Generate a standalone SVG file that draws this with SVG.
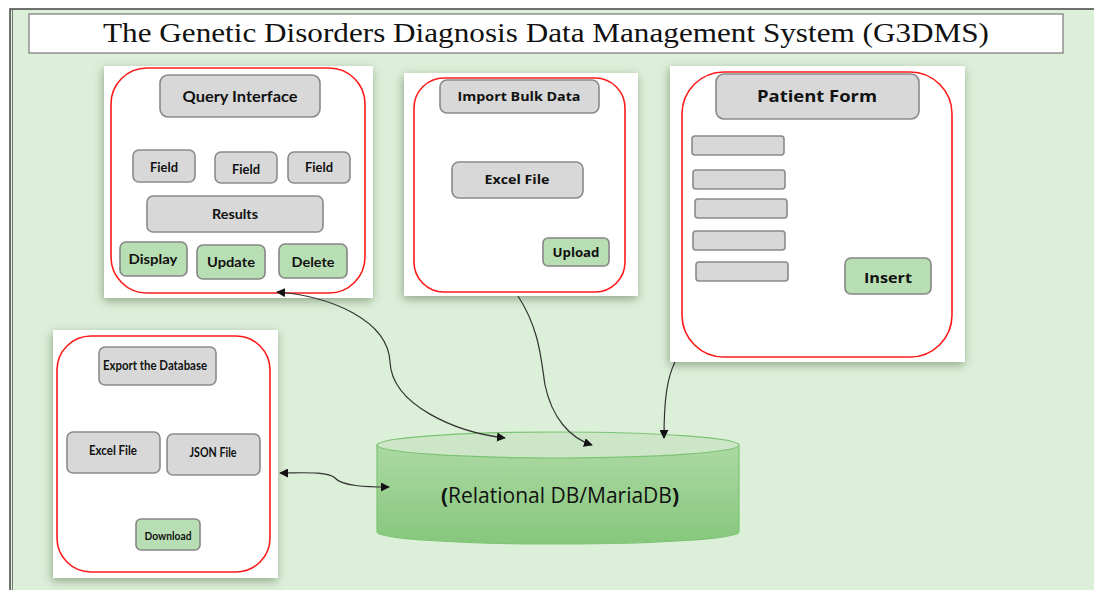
<svg xmlns="http://www.w3.org/2000/svg" width="1094" height="590" viewBox="0 0 1094 590">
<defs>
<style>
.panel{fill:#fff;filter:url(#sh)}
.red{fill:none;stroke:#ff1a1a;stroke-width:1.6}
.btn{fill:#d8d8d8;stroke:#8a8a8a;stroke-width:1.6}
.gbtn{fill:#b8dfb3;stroke:#858585;stroke-width:1.6}
.lbl{font-family:"Open Sans",Lato,"Liberation Sans",sans-serif;font-weight:bold;fill:#111;text-anchor:middle}
.cal{font-family:Lato,"Open Sans","Liberation Sans",sans-serif;font-weight:bold;fill:#111;text-anchor:middle}
.conn{fill:none;stroke:#333;stroke-width:1.2}
</style>
<filter id="sh" x="-20%" y="-20%" width="140%" height="140%">
<feDropShadow dx="-1" dy="3" stdDeviation="5" flood-color="#4f6a48" flood-opacity="0.55"/>
</filter>
<marker id="ah" viewBox="0 0 10 10" refX="9" refY="5" markerWidth="9" markerHeight="9" markerUnits="userSpaceOnUse" orient="auto-start-reverse">
<path d="M0,0 L10,5 L0,10 z" fill="#111"/>
</marker>
<linearGradient id="cyl" x1="0" y1="0" x2="0" y2="1">
<stop offset="0" stop-color="#acd9a3"/>
<stop offset="1" stop-color="#86c77c"/>
</linearGradient>
</defs>

<rect x="0" y="0" width="1094" height="590" fill="#fff"/>
<rect x="10" y="9" width="1090" height="590" fill="#dcefd8" stroke="#444" stroke-width="1.5"/>
<line x1="12.5" y1="10" x2="12.5" y2="590" stroke="#777" stroke-width="1"/>

<g id="title">
<rect x="29" y="14" width="1034" height="39" fill="#fff" stroke="#777" stroke-width="1.2"/>
<text x="546" y="42" font-family="'Liberation Serif','Times New Roman',serif" font-size="28" fill="#111" text-anchor="middle" textLength="886" lengthAdjust="spacingAndGlyphs">The Genetic Disorders Diagnosis Data Management System (G3DMS)</text>
</g>

<g id="query-panel">
<rect class="panel" x="104" y="66" width="269" height="232"/>
<rect class="red" x="111" y="68" width="254" height="225" rx="36" stroke-width="1.3"/>
<rect class="btn" x="160" y="75" width="160" height="42" rx="8"/>
<text class="cal" x="240" y="102" font-size="15" textLength="115" lengthAdjust="spacingAndGlyphs">Query Interface</text>
<rect class="btn" x="133" y="150" width="62" height="32" rx="6"/>
<text class="cal" x="164" y="172" font-size="13" textLength="28" lengthAdjust="spacingAndGlyphs">Field</text>
<rect class="btn" x="215" y="152" width="62" height="31" rx="6"/>
<text class="cal" x="246" y="174" font-size="13" textLength="28" lengthAdjust="spacingAndGlyphs">Field</text>
<rect class="btn" x="288" y="152" width="62" height="31" rx="6"/>
<text class="cal" x="319" y="172" font-size="13" textLength="28" lengthAdjust="spacingAndGlyphs">Field</text>
<rect class="btn" x="147" y="196" width="176" height="36" rx="6"/>
<text class="cal" x="235" y="219" font-size="13" textLength="46" lengthAdjust="spacingAndGlyphs">Results</text>
<rect class="gbtn" x="120" y="242" width="67" height="34" rx="6"/>
<text class="cal" x="153" y="264" font-size="14" textLength="49" lengthAdjust="spacingAndGlyphs">Display</text>
<rect class="gbtn" x="197" y="245" width="68" height="34" rx="6"/>
<text class="cal" x="231" y="267" font-size="14" textLength="48" lengthAdjust="spacingAndGlyphs">Update</text>
<rect class="gbtn" x="279" y="244" width="68" height="34" rx="6"/>
<text class="cal" x="313" y="267" font-size="14" textLength="43" lengthAdjust="spacingAndGlyphs">Delete</text>
</g>

<g id="import-panel">
<rect class="panel" x="404" y="73" width="234" height="223"/>
<rect class="red" x="414" y="78" width="211" height="214" rx="30" stroke-width="1.5"/>
<rect class="btn" x="440" y="80" width="159" height="33" rx="7"/>
<text class="lbl" x="519" y="100.5" font-size="12.5" textLength="123" lengthAdjust="spacingAndGlyphs">Import Bulk Data</text>
<rect class="btn" x="452" y="162" width="131" height="36" rx="7"/>
<text class="lbl" x="517" y="183.5" font-size="13" textLength="65" lengthAdjust="spacingAndGlyphs">Excel File</text>
<rect class="gbtn" x="543" y="238" width="66" height="28" rx="5"/>
<text class="lbl" x="576" y="257" font-size="11.5" textLength="47" lengthAdjust="spacingAndGlyphs">Upload</text>
</g>

<g id="patient-panel">
<rect class="panel" x="670" y="66" width="295" height="296"/>
<rect class="red" x="682" y="72" width="270" height="285" rx="42" stroke-width="2.4"/>
<rect class="btn" x="716" y="74" width="203" height="45" rx="8" stroke-width="2"/>
<text class="lbl" x="817" y="102" font-size="15.5" textLength="120" lengthAdjust="spacingAndGlyphs">Patient Form</text>
<rect class="btn" x="692" y="136" width="92" height="19" rx="3" stroke-width="2"/>
<rect class="btn" x="693" y="170" width="92" height="19" rx="3" stroke-width="2"/>
<rect class="btn" x="695" y="199" width="92" height="19" rx="3" stroke-width="2"/>
<rect class="btn" x="693" y="231" width="92" height="19" rx="3" stroke-width="2"/>
<rect class="btn" x="696" y="262" width="92" height="19" rx="3" stroke-width="2"/>
<rect class="gbtn" x="845" y="258" width="86" height="36" rx="6" stroke-width="2"/>
<text class="lbl" x="888" y="283" font-size="14" textLength="48" lengthAdjust="spacingAndGlyphs">Insert</text>
</g>

<g id="export-panel">
<rect class="panel" x="53" y="330" width="225" height="248"/>
<rect class="red" x="57" y="336" width="213" height="236" rx="34" stroke-width="1.8"/>
<rect class="btn" x="99" y="347" width="117" height="38" rx="6"/>
<text class="cal" x="155" y="370" font-size="12.5" textLength="104" lengthAdjust="spacingAndGlyphs">Export the Database</text>
<rect class="btn" x="67" y="432" width="93" height="41" rx="6"/>
<text class="cal" x="113" y="455" font-size="13" textLength="48" lengthAdjust="spacingAndGlyphs">Excel File</text>
<rect class="btn" x="167" y="434" width="93" height="41" rx="6"/>
<text class="cal" x="213" y="457" font-size="13" textLength="47" lengthAdjust="spacingAndGlyphs">JSON File</text>
<rect class="gbtn" x="136" y="519" width="64" height="31" rx="5"/>
<text class="cal" x="168" y="540" font-size="12" textLength="47" lengthAdjust="spacingAndGlyphs">Download</text>
</g>

<g id="database">
<path d="M377 445 L377 532 A181 12 0 0 0 739 532 L739 445 Z" fill="url(#cyl)" stroke="#7cc473" stroke-width="1.2"/>
<ellipse cx="558" cy="445" rx="181" ry="13" fill="#cde6c8" stroke="#7cc473" stroke-width="1.2"/>
<text x="560" y="503" font-family="'Open Sans','Noto Sans',sans-serif" font-size="21" fill="#111" text-anchor="middle"><tspan font-weight="bold">(</tspan>Relational DB/MariaDB<tspan font-weight="bold">)</tspan></text>
</g>

<g id="connectors">
<path class="conn" d="M277 292 C330 296 388 320 390 362 C392 405 455 432 505 438" marker-start="url(#ah)" marker-end="url(#ah)"/>
<path class="conn" d="M518 296 C540 330 541 360 545 385 C552 418 570 438 592 445" marker-end="url(#ah)"/>
<path class="conn" d="M675 362 C667 378 664 400 664 438" marker-end="url(#ah)"/>
<path class="conn" d="M280 473 C300 473 328 471 335 478 C342 486 365 487 389 487" marker-start="url(#ah)" marker-end="url(#ah)"/>
</g>
</svg>
